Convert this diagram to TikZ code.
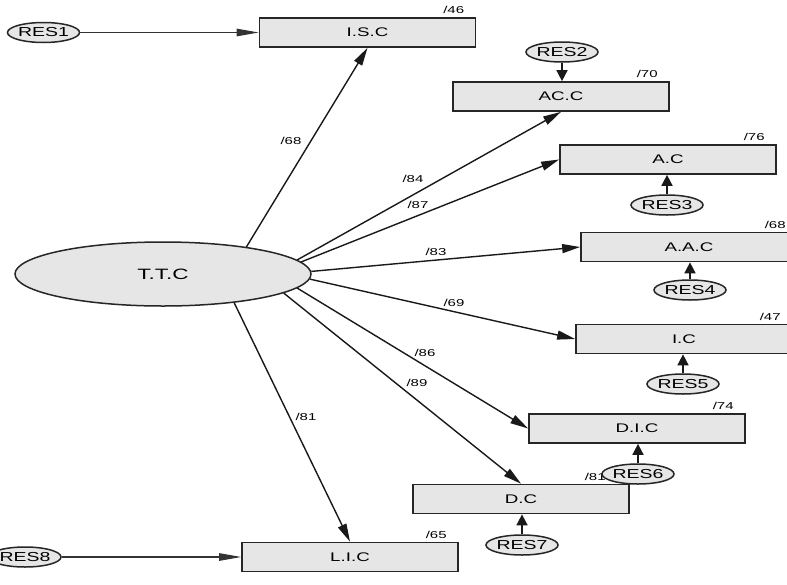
\documentclass[tikz,border=0pt]{standalone}
\usepackage{fontspec}
\setmainfont[FakeStretch=1.5]{Liberation Sans}
\usetikzlibrary{shapes.geometric,arrows.meta}
\definecolor{boxgray}{HTML}{E6E6E6}
\begin{document}
\begin{tikzpicture}[x=1pt,y=-1pt,
  boxn/.style={draw=black!85, line width=1.7pt, fill=boxgray, minimum width=216pt, minimum height=29pt, inner sep=0pt, font=\fontsize{12.5}{14}\selectfont},
  latent/.style={ellipse, draw=black!85, line width=1.5pt, fill=boxgray, minimum width=296pt, minimum height=64pt, inner sep=0pt, font=\fontsize{15}{17}\selectfont},
  resn/.style={ellipse, draw=black!85, line width=1.5pt, fill=boxgray, minimum width=63pt, minimum height=20pt, inner sep=0pt, font=\fontsize{13}{14}\selectfont},
  wt/.style={font=\fontsize{10}{11}\selectfont, inner sep=0pt},
  arr/.style={line width=1.4pt, draw=black!90, -{Triangle[length=18pt,width=9pt]}},
  resarr/.style={line width=1.6pt, draw=black!90, -{Triangle[length=11pt,width=11pt]}},
  sidearr/.style={line width=1.1pt, draw=black!80, -{Triangle[length=22pt,width=7.5pt]}}
]
\clip (0,0) rectangle (787,584);
\fill[white] (0,0) rectangle (787,584);

% latent
\node[latent] (ttc) at (163,274) {T.T.C};

% observed boxes
\node[boxn] (isc) at (367.5,32.5) {I.S.C};
\node[boxn] (acc) at (561,96.5) {AC.C};
\node[boxn] (ac)  at (668,159.5) {A.C};
\node[boxn] (aac) at (689,247) {A.A.C};
\node[boxn] (ic)  at (684,339) {I.C};
\node[boxn] (dic) at (637,428.5) {D.I.C};
\node[boxn] (dc)  at (521,499) {D.C};
\node[boxn] (lic) at (350,557) {L.I.C};

% R-squared labels
\node[wt, anchor=south east] (w1) at ([xshift=-12pt,yshift=3pt]isc.north east) {/46};
\node[wt, anchor=south east] (w2) at ([xshift=-12pt,yshift=3pt]acc.north east) {/70};
\node[wt, anchor=south east] (w3) at ([xshift=-12pt,yshift=3pt]ac.north east) {/76};
\node[wt, anchor=south east] (w4) at ([xshift=-12pt,yshift=3pt]aac.north east) {/68};
\node[wt, anchor=south east] (w5) at ([xshift=-12pt,yshift=3pt]ic.north east) {/47};
\node[wt, anchor=south east] (w6) at ([xshift=-12pt,yshift=3pt]dic.north east) {/74};
\node[wt, anchor=south east] (w7) at ([xshift=-24pt,yshift=3pt]dc.north east) {/81};
\node[wt, anchor=south east] (w8) at ([xshift=-12pt,yshift=3pt]lic.north east) {/65};

% residuals
\node[resn] (r1) at (43.5,32.5) {RES1};
\node[resn] (r2) at (562,52) {RES2};
\node[resn] (r3) at (667,205) {RES3};
\node[resn] (r4) at (690,290) {RES4};
\node[resn] (r5) at (683,384) {RES5};
\node[resn, minimum width=60pt] (r6) at (638,474) {RES6};
\node[resn] (r7) at (522,545) {RES7};
\node[resn] (r8) at (25,557) {RES8};

% structural paths
\draw[arr] (ttc.18.9) -- (isc.south);
\draw[arr] (ttc.6.9) -- (acc.south);
\draw[arr] (ttc.5.3) -- (ac.west);
\draw[arr] (ttc.1.2) -- (aac.west);
\draw[arr] (ttc.-2.3) -- (ic.west);
\draw[arr] (ttc.-6.9) -- (dic.west);
\draw[arr] (ttc.-9.5) -- (dc.north);
\draw[arr] (ttc.-22.5) -- (lic.north);

% loadings
\node[wt] (l1) at (291,141) {/68};
\node[wt] (l2) at (413,179) {/84};
\node[wt] (l3) at (418,205) {/87};
\node[wt] (l4) at (436,252) {/83};
\node[wt] (l5) at (454,303) {/69};
\node[wt] (l6) at (425,353) {/86};
\node[wt] (l7) at (417,383) {/89};
\node[wt] (l8) at (306,417) {/81};

% residual paths
\draw[sidearr] (r1.east) -- (isc.west);
\draw[resarr] (r2.south) -- (r2.south |- acc.north);
\draw[resarr] (r3.north) -- (r3.north |- ac.south);
\draw[resarr] (r4.north) -- (r4.north |- aac.south);
\draw[resarr] (r5.north) -- (r5.north |- ic.south);
\draw[resarr] (r6.north) -- (r6.north |- dic.south);
\draw[resarr] (r7.north) -- (r7.north |- dc.south);
\draw[sidearr] (r8.east) -- (lic.west);
\end{tikzpicture}
\end{document}
